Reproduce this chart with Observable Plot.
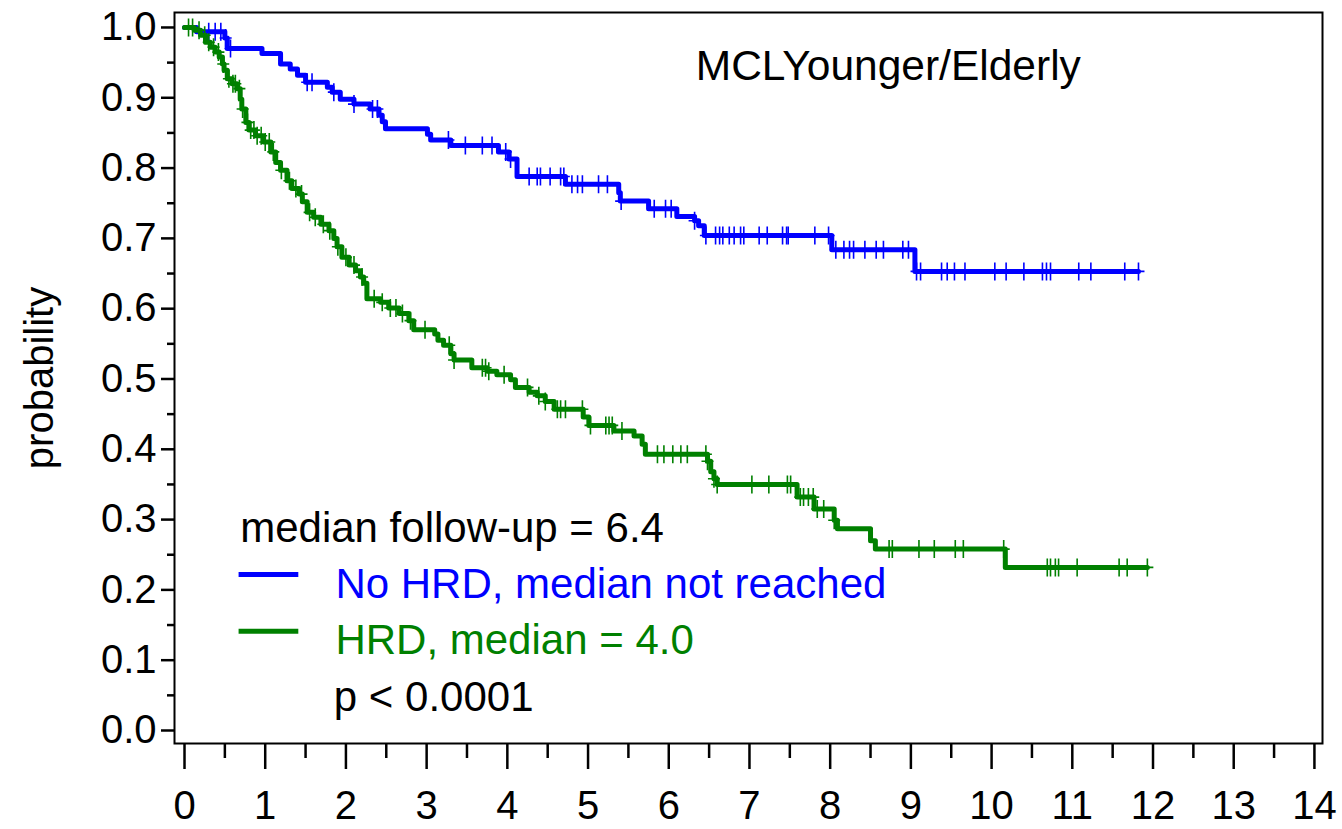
<!DOCTYPE html>
<html><head><meta charset="utf-8">
<script src="https://cdn.jsdelivr.net/npm/d3@7"></script>
<script src="https://cdn.jsdelivr.net/npm/@observablehq/plot@0.6"></script>
<style>body{margin:0;background:#fff;} #chart svg{display:block;}</style>
</head><body><div id="chart"></div>
<script>
// ---- Data ----
const xMajorTicks = [0,1,2,3,4,5,6,7,8,9,10,11,12,13,14];
const xMinorTicks = [0.5,1.5,2.5,3.5,4.5,5.5,6.5,7.5,8.5,9.5,10.5,11.5,12.5,13.5];
const yMajorTicks = [0,0.1,0.2,0.3,0.4,0.5,0.6,0.7,0.8,0.9,1.0];
const yMinorTicks = [0.05,0.15,0.25,0.35,0.45,0.55,0.65,0.75,0.85,0.95];

// No HRD (blue) Kaplan-Meier steps
const blueTimes = [0,0.15,0.50,0.53,0.96,1.19,1.31,1.40,1.50,1.77,1.83,1.93,2.10,2.30,2.41,2.45,2.49,3.01,3.05,3.30,3.89,4.02,4.12,4.72,5.38,5.40,5.75,6.10,6.32,6.37,6.44,8.02,9.05,11.82];
const blueSurv  = [1.0,0.994,0.985,0.970,0.963,0.948,0.941,0.932,0.922,0.915,0.908,0.898,0.891,0.884,0.875,0.866,0.856,0.848,0.840,0.832,0.823,0.813,0.788,0.777,0.765,0.753,0.742,0.731,0.725,0.718,0.704,0.684,0.653,0.653];
const blueCensor = [0.30,0.38,0.45,0.51,0.57,1.52,1.58,1.85,2.10,2.33,2.39,3.27,3.48,3.69,3.81,3.98,4.04,4.27,4.37,4.41,4.53,4.66,4.70,4.80,4.87,4.93,5.13,5.24,5.41,5.82,5.96,6.03,6.32,6.46,6.58,6.63,6.67,6.75,6.81,6.89,6.93,7.12,7.22,7.41,7.46,7.48,7.81,7.98,8.07,8.17,8.24,8.29,8.43,8.57,8.66,8.90,8.97,9.07,9.12,9.38,9.45,9.54,9.67,10.04,10.18,10.40,10.63,10.68,10.73,11.08,11.23,11.65,11.82];

// HRD (green) Kaplan-Meier steps
const greenTimes = [0,0.12,0.20,0.26,0.32,0.38,0.43,0.47,0.49,0.53,0.59,0.65,0.69,0.71,0.76,0.80,0.88,0.98,1.07,1.13,1.19,1.27,1.33,1.42,1.46,1.52,1.60,1.69,1.79,1.85,1.89,1.95,2.04,2.12,2.18,2.22,2.26,2.43,2.53,2.66,2.78,2.84,3.10,3.14,3.21,3.30,3.34,3.56,3.75,3.87,4.04,4.10,4.27,4.37,4.47,4.58,4.94,5.01,5.32,5.57,5.67,5.71,6.48,6.52,6.56,6.60,7.59,7.80,8.05,8.09,8.50,8.56,10.17,11.93];
const greenSurv  = [1.0,0.996,0.989,0.979,0.972,0.965,0.958,0.948,0.939,0.927,0.920,0.913,0.898,0.884,0.865,0.854,0.846,0.837,0.823,0.808,0.797,0.782,0.771,0.763,0.752,0.737,0.730,0.720,0.711,0.700,0.688,0.673,0.662,0.654,0.645,0.636,0.614,0.609,0.601,0.593,0.583,0.570,0.564,0.555,0.548,0.536,0.527,0.516,0.511,0.506,0.499,0.488,0.481,0.476,0.468,0.457,0.446,0.434,0.426,0.419,0.407,0.393,0.383,0.368,0.358,0.350,0.332,0.315,0.299,0.287,0.270,0.258,0.232,0.232];
const greenCensor = [0.05,0.10,0.18,0.25,0.30,0.36,0.42,0.48,0.55,0.60,0.63,0.68,0.72,0.78,0.82,0.86,0.90,0.95,1.00,1.05,1.10,1.20,1.30,1.38,1.45,1.55,1.62,1.72,1.80,1.90,2.00,2.10,2.20,2.35,2.45,2.55,2.62,2.70,2.80,2.98,3.28,3.34,3.69,3.73,3.77,3.96,4.25,4.39,4.47,4.62,4.66,4.72,4.93,5.03,5.22,5.26,5.30,5.42,5.86,5.94,6.05,6.15,6.23,6.46,6.48,6.56,6.60,7.03,7.24,7.47,7.51,7.63,7.67,7.73,7.79,7.84,7.92,8.05,8.73,8.77,9.10,9.29,9.55,9.65,10.15,10.69,10.73,10.79,10.83,11.06,11.58,11.68,11.93];

const groups = ["No HRD", "HRD"];
const colors = ["#0000ff", "#008000"];

const titleText = "MCLYounger/Elderly";
const notes = [
  {text: "median follow-up = 6.4", x: 0.69, y: 0.287, color: "black"},
  {text: "No HRD, median not reached", x: 1.87, y: 0.208, color: "#0000ff"},
  {text: "HRD, median = 4.0", x: 1.87, y: 0.128, color: "#008000"},
  {text: "p < 0.0001", x: 1.85, y: 0.047, color: "black"}
];
const legendLines = [
  {x1: 0.67, x2: 1.41, y: 0.222, color: "#0000ff"},
  {x1: 0.67, x2: 1.41, y: 0.141, color: "#008000"}
];

// ---- Build tables ----
const survAt = (times, surv, t) => surv[Math.max(0, d3.bisectRight(times, t) - 1)];
const blueSteps = blueTimes.map((t, i) => ({t, s: blueSurv[i]}));
const greenSteps = greenTimes.map((t, i) => ({t, s: greenSurv[i]}));
const blueMarks = blueCensor.map(t => ({t, s: survAt(blueTimes, blueSurv, t)}));
const greenMarks = greenCensor.map(t => ({t, s: survAt(greenTimes, greenSurv, t)}));

const censorSymbol = {
  draw(ctx, size) {
    ctx.moveTo(0, -9); ctx.lineTo(0, 9);
    ctx.moveTo(-6, 0); ctx.lineTo(6, 0);
  }
};

const font = "'Liberation Sans', Arial, Helvetica, sans-serif";

const chart = Plot.plot({
  width: 1342,
  height: 829,
  marginLeft: 174,
  marginRight: 20,
  marginTop: 12,
  marginBottom: 86,
  style: {fontFamily: font, background: "white", color: "black"},
  x: {domain: [-0.124, 14.1], label: null},
  y: {domain: [-0.0185, 1.0213], label: null},
  marks: [
    Plot.axisX({ticks: xMajorTicks, tickSize: 26, tickPadding: 21, fontSize: 40, strokeWidth: 2.5, tickFormat: d => String(d), label: null}),
    Plot.axisX({ticks: xMinorTicks, tickSize: 15, strokeWidth: 2.5, tickFormat: () => "", label: null}),
    Plot.axisY({ticks: yMajorTicks, tickSize: 13, tickPadding: 5, fontSize: 40, strokeWidth: 2.5, tickFormat: d3.format(".1f"), label: null}),
    Plot.axisY({ticks: yMinorTicks, tickSize: 7, strokeWidth: 2.5, tickFormat: () => "", label: null}),
    Plot.text(["probability"], {frameAnchor: "left", dx: -134, rotate: -90, textAnchor: "middle", lineAnchor: "middle", fontSize: 40, fill: "black"}),
    Plot.line(blueSteps, {x: "t", y: "s", curve: "step-after", stroke: colors[0], strokeWidth: 5}),
    Plot.line(greenSteps, {x: "t", y: "s", curve: "step-after", stroke: colors[1], strokeWidth: 5}),
    Plot.dot(blueMarks, {x: "t", y: "s", symbol: censorSymbol, stroke: colors[0], strokeWidth: 1.6, r: 5}),
    Plot.dot(greenMarks, {x: "t", y: "s", symbol: censorSymbol, stroke: colors[1], strokeWidth: 1.6, r: 5}),
    Plot.link(legendLines, {x1: "x1", x2: "x2", y1: "y", y2: "y", stroke: "color", strokeWidth: 5}),
    Plot.text(notes, {x: "x", y: "y", text: "text", fill: "color", textAnchor: "start", lineAnchor: "middle", fontSize: 42}),
    Plot.text([titleText], {x: 8.72, y: 0.945, textAnchor: "middle", lineAnchor: "middle", fontSize: 42.5, fill: "black"}),
    Plot.frame({stroke: "black", strokeWidth: 2})
  ]
});
document.getElementById("chart").appendChild(chart);
</script>
</body></html>
